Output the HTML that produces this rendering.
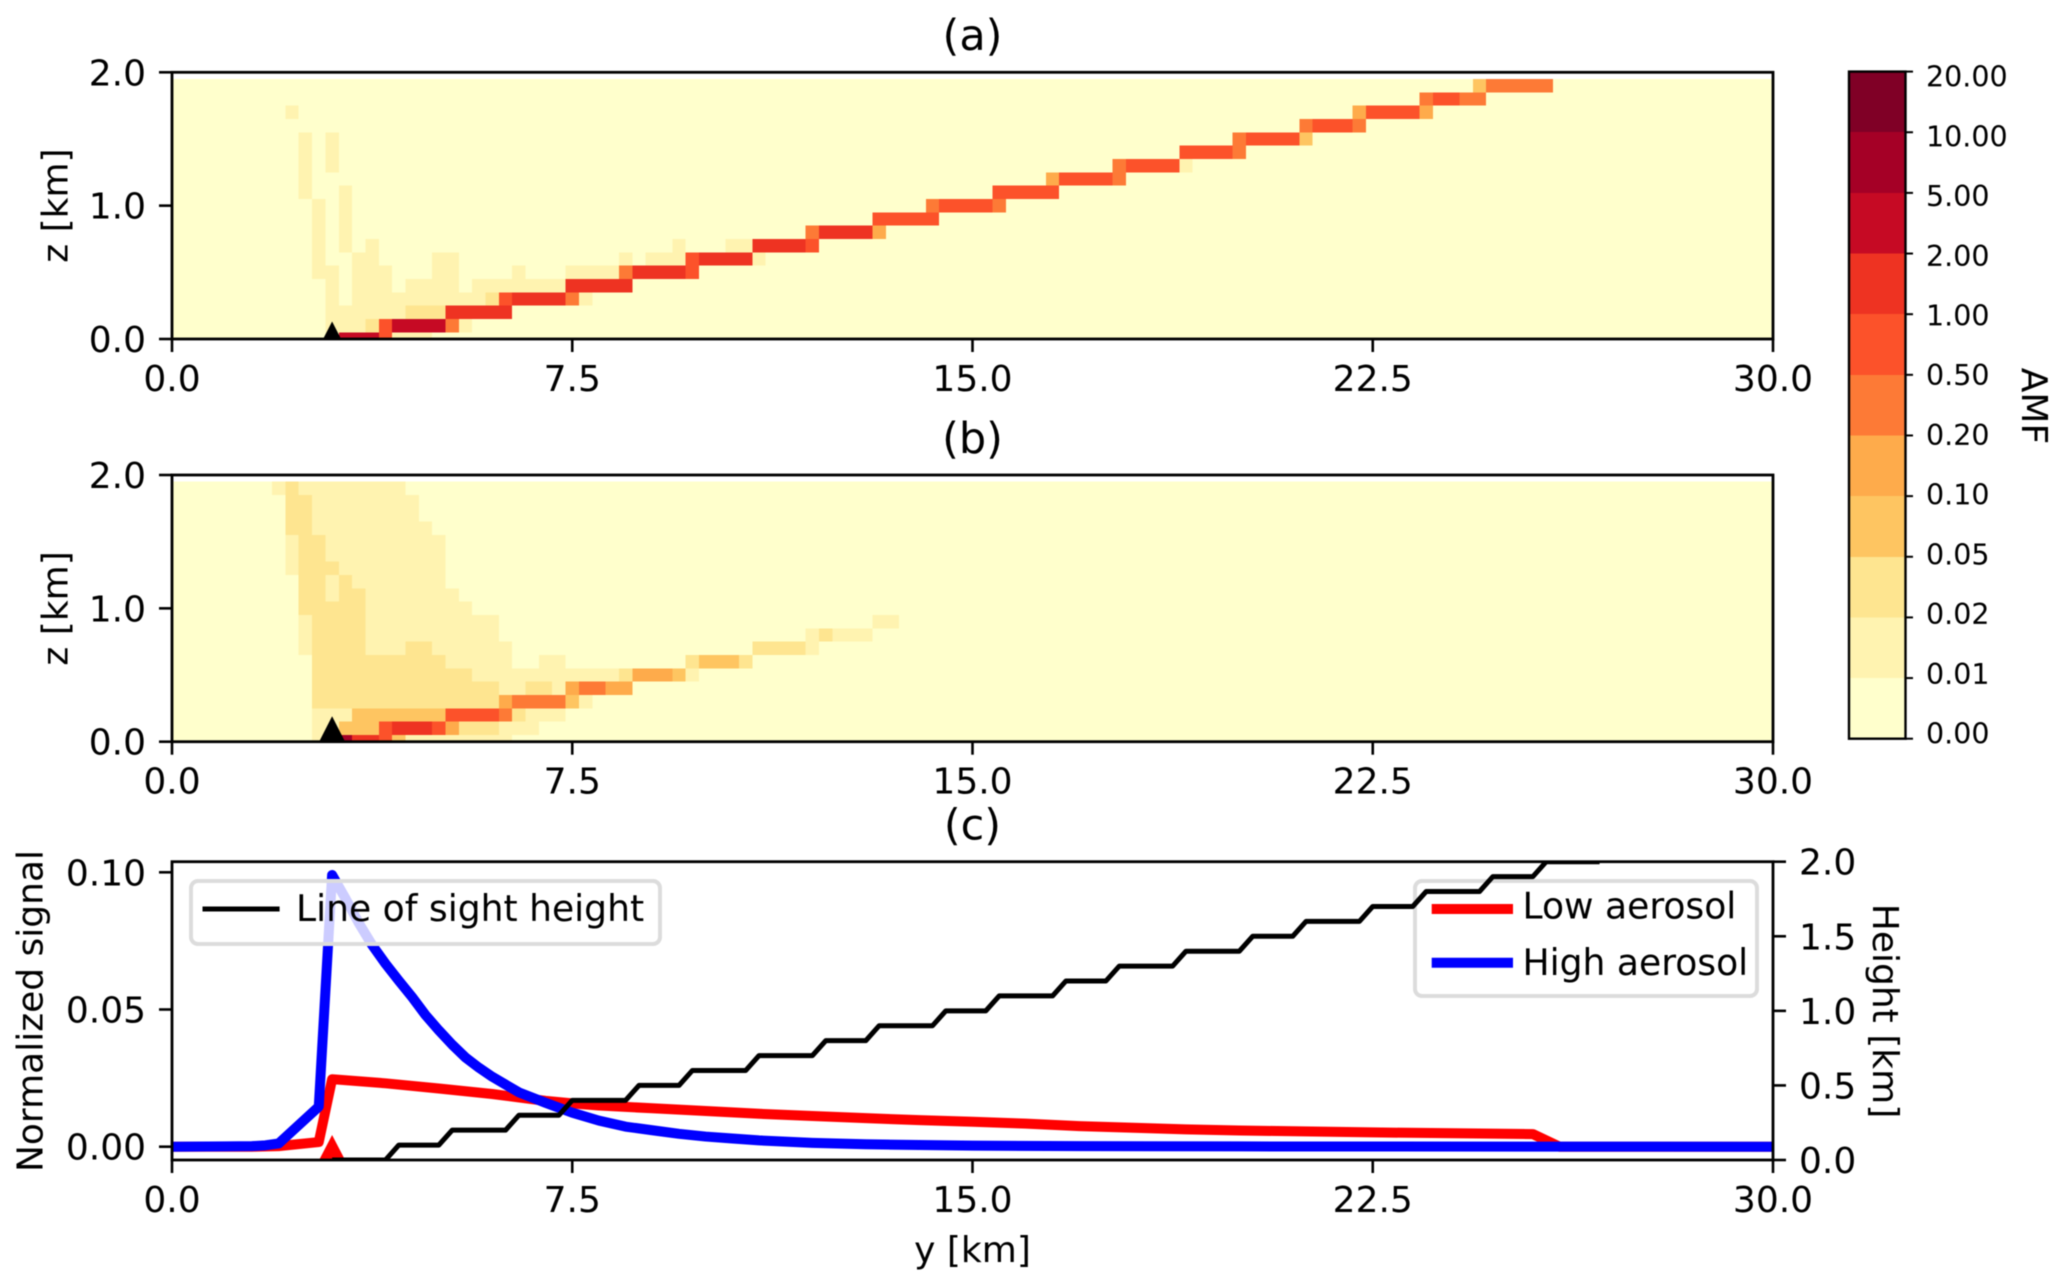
<!DOCTYPE html>
<html lang="en">
<head>
<meta charset="utf-8">
<title>AMF heatmaps and normalized signal</title>
<style>
html,body{margin:0;padding:0;background:#fff;}
svg{display:block;font-family:"DejaVu Sans","Liberation Sans",sans-serif;filter:blur(0.4px);}
text{fill:#000;}
</style>
</head>
<body>
<svg id="figure" xmlns="http://www.w3.org/2000/svg" width="2067" height="1288" viewBox="0 0 2067 1288">
  <defs>
    <clipPath id="clip-a"><rect x="172" y="72.3" width="1601" height="266.7"/></clipPath>
    <clipPath id="clip-b"><rect x="172" y="475" width="1601" height="266.7"/></clipPath>
    <clipPath id="clip-c"><rect x="172" y="861.7" width="1601" height="298.3"/></clipPath>
  </defs>
  <g id="panel-a"></g>
  <g id="panel-b"></g>
  <g id="panel-c">
    <g id="c-low-lines"></g>
    <g id="legend-right">
      <rect x="1415" y="881" width="342" height="115" rx="7" fill="#fff" fill-opacity="0.8" stroke="#dcdcdc" stroke-width="4"/>
      <line x1="1431.7" x2="1513" y1="909" y2="909" stroke="#ff0000" stroke-width="10"/>
      <text x="1522.5" y="918.7" font-size="36.1">Low aerosol</text>
      <line x1="1431.7" x2="1513" y1="962.7" y2="962.7" stroke="#0000ff" stroke-width="10"/>
      <text x="1522.5" y="975" font-size="36.1">High aerosol</text>
    </g>
    <g id="c-axes"></g>
    <g id="c-los"></g>
    <g id="legend-left">
      <rect x="191" y="881" width="469" height="63" rx="7" fill="#fff" fill-opacity="0.8" stroke="#dcdcdc" stroke-width="4"/>
      <line x1="202.5" x2="279.6" y1="909" y2="909" stroke="#000" stroke-width="5"/>
      <text x="296" y="921" font-size="36.1">Line of sight height</text>
    </g>
  </g>
  <g id="colorbar"></g>

  <text x="972.5" y="50" font-size="43" text-anchor="middle">(a)</text>
  <text x="972.5" y="453" font-size="43" text-anchor="middle">(b)</text>
  <text x="972.5" y="839.5" font-size="43" text-anchor="middle">(c)</text>
  <text transform="translate(67.5,205.6) rotate(-90)" font-size="36" text-anchor="middle">z [km]</text>
  <text transform="translate(67.5,608.4) rotate(-90)" font-size="36" text-anchor="middle">z [km]</text>
  <text transform="translate(42.5,1011) rotate(-90)" font-size="36" text-anchor="middle">Normalized signal</text>
  <text transform="translate(1873,1011) rotate(90)" font-size="36" text-anchor="middle">Height [km]</text>
  <text x="972.5" y="1262" font-size="36" text-anchor="middle">y [km]</text>
  <text transform="translate(2022,406) rotate(90)" font-size="36" text-anchor="middle">AMF</text>
</svg>

<script>
// ---- shared axis data ----
const xTickValues = [0, 7.5, 15, 22.5, 30];
const xTickLabels = ['0.0', '7.5', '15.0', '22.5', '30.0'];
const zTickValues = [0, 1, 2];
const zTickLabels = ['0.0', '1.0', '2.0'];
const signalTickValues = [0, 0.05, 0.1];
const signalTickLabels = ['0.00', '0.05', '0.10'];
const heightTickValues = [0, 0.5, 1, 1.5, 2];
const heightTickLabels = ['0.0', '0.5', '1.0', '1.5', '2.0'];
const colorBounds = [0, 0.01, 0.02, 0.05, 0.1, 0.2, 0.5, 1, 2, 5, 10, 20];
const colorBoundLabels = ['0.00', '0.01', '0.02', '0.05', '0.10', '0.20', '0.50', '1.00', '2.00', '5.00', '10.00', '20.00'];
const colorLevels = ['#ffffcc', '#fff3b0', '#fee590', '#fec561', '#feab4b', '#fd7a36', '#fc522a', '#ee3322', '#c60a24', '#a50026', '#800026'];
const sourceY = [3];
const backgroundAmf = [0.005];

// ---- heatmap runs: [first column, last column, row, AMF]; column = y/0.25 km, row = z/0.1 km ----
const panelARuns = [
  [12,12,0,.015],[13,15,0,3],[16,16,0,.7],[17,19,0,.015],
  [12,14,1,.015],[15,15,1,.03],[16,16,1,.7],[17,20,1,3],[21,21,1,.3],[22,22,1,.015],
  [12,17,2,.015],[18,20,2,.03],[21,25,2,1.5],
  [12,12,3,.015],[14,23,3,.015],[24,24,3,.03],[25,25,3,.7],[26,29,3,1.5],[30,30,3,.3],[31,31,3,.015],
  [12,12,4,.015],[14,16,4,.015],[18,21,4,.015],[23,29,4,.015],[30,34,4,1.5],
  [11,12,5,.015],[14,16,5,.015],[20,21,5,.015],[26,26,5,.015],[30,33,5,.015],[34,34,5,.3],[35,38,5,1.5],[39,39,5,.7],
  [11,11,6,.015],[14,15,6,.015],[20,21,6,.015],[34,34,6,.015],[36,38,6,.015],[39,39,6,.7],[40,43,6,1.5],[44,44,6,.015],
  [11,11,7,.015],[13,13,7,.015],[15,15,7,.015],[38,38,7,.015],[42,43,7,.015],[44,47,7,1.5],[48,48,7,.7],
  [11,11,8,.015],[13,13,8,.015],[48,48,8,.3],[49,52,8,1.5],[53,53,8,.15],
  [11,11,9,.015],[13,13,9,.015],[53,57,9,.7],
  [11,11,10,.015],[13,13,10,.015],[57,57,10,.3],[58,61,10,.7],[62,62,10,.3],
  [10,10,11,.015],[13,13,11,.015],[62,66,11,.7],
  [10,10,12,.015],[66,66,12,.15],[67,70,12,.7],[71,71,12,.3],
  [10,10,13,.015],[12,12,13,.015],[71,71,13,.3],[72,75,13,.7],[76,76,13,.015],
  [10,10,14,.015],[12,12,14,.015],[76,79,14,.7],[80,80,14,.3],
  [10,10,15,.015],[12,12,15,.015],[80,80,15,.3],[81,84,15,.7],[85,85,15,.07],
  [85,85,16,.3],[86,88,16,.7],[89,89,16,.3],
  [9,9,17,.015],[89,89,17,.15],[90,93,17,.7],[94,94,17,.15],
  [94,94,18,.3],[95,96,18,.7],[97,98,18,.3],
  [98,98,19,.07],[99,103,19,.3]
];
const panelBRuns = [
  [11,12,0,.015],[13,13,0,7],[14,15,0,1.5],[16,16,0,.7],[17,17,0,.07],[18,25,0,.015],
  [11,12,1,.015],[13,15,1,.07],[16,16,1,.7],[17,19,1,1.5],[20,20,1,.7],[21,21,1,.15],[22,24,1,.03],[25,27,1,.015],
  [11,13,2,.015],[14,20,2,.07],[21,24,2,.7],[25,25,2,.3],[26,26,2,.03],[27,29,2,.015],
  [11,24,3,.03],[25,25,3,.15],[26,29,3,.3],[30,30,3,.07],[31,31,3,.015],
  [11,24,4,.03],[25,26,4,.015],[27,28,4,.03],[29,29,4,.015],[30,30,4,.15],[31,32,4,.3],[33,34,4,.15],
  [11,22,5,.03],[23,33,5,.015],[34,34,5,.03],[35,37,5,.15],[38,38,5,.07],[39,39,5,.015],
  [11,20,6,.03],[21,25,6,.015],[28,29,6,.015],[39,39,6,.03],[40,42,6,.07],[43,43,6,.03],
  [10,10,7,.015],[11,14,7,.03],[15,17,7,.015],[18,19,7,.03],[20,25,7,.015],[44,47,7,.03],[48,48,7,.015],
  [10,10,8,.015],[11,14,8,.03],[15,24,8,.015],[48,48,8,.015],[49,49,8,.03],[50,52,8,.015],
  [10,10,9,.015],[11,14,9,.03],[15,24,9,.015],[53,54,9,.015],
  [10,14,10,.03],[15,22,10,.015],
  [10,11,11,.03],[12,12,11,.015],[13,14,11,.03],[15,21,11,.015],
  [10,11,12,.03],[12,12,12,.015],[13,13,12,.03],[14,20,12,.015],
  [9,9,13,.015],[10,12,13,.03],[13,20,13,.015],
  [9,9,14,.015],[10,11,14,.03],[12,20,14,.015],
  [9,9,15,.015],[10,11,15,.03],[12,20,15,.015],
  [9,10,16,.03],[11,19,16,.015],
  [9,10,17,.03],[11,18,17,.015],
  [9,10,18,.03],[11,18,18,.015],
  [8,8,19,.015],[9,9,19,.03],[10,17,19,.015]
];

// ---- panel (c) series ----
const lowY = [0,1.5,2,2.75,3,4,5,6,7,7.5,8,9,10,11,12,13,14,15,16,17,19,20,22.5,25.5,26,30];
const lowSignal = [0,0,.0002,.0017,.0246,.0231,.0212,.0192,.0167,.0158,.0150,.0140,.0130,.0120,.0112,.0104,.0097,.0091,.0084,.0075,.0063,.0059,.0052,.0046,0,0];
const highY = [0,1,1.5,1.75,2,2.75,3,3.25,3.5,3.75,4,4.25,4.5,4.75,5,5.25,5.5,5.75,6,6.5,7,7.5,8,8.5,9,9.5,10,10.5,11,12,13,14,15,17,20,30];
const highSignal = [0,.0001,.0002,.0005,.0012,.0146,.099,.0905,.0815,.0735,.0667,.0605,.0545,.0480,.0424,.0372,.0325,.0288,.0255,.0198,.0160,.0124,.0095,.0073,.0060,.0047,.0037,.0030,.0023,.0014,.0009,.0006,.0004,.0002,.0001,0];
const losY = [3,4,4.25,5,5.25,6.25,6.5,7.25,7.5,8.5,8.75,9.5,9.75,10.75,11,12,12.25,13,13.25,14.25,14.5,15.25,15.5,16.5,16.75,17.5,17.75,18.75,19,20,20.25,21,21.25,22.25,22.5,23.25,23.5,24.5,24.75,25.5,25.75,26.75];
const losHeight = [0,0,.1,.1,.2,.2,.3,.3,.4,.4,.5,.5,.6,.6,.7,.7,.8,.8,.9,.9,1,1,1.1,1.1,1.2,1.2,1.3,1.3,1.4,1.4,1.5,1.5,1.6,1.6,1.7,1.7,1.8,1.8,1.9,1.9,2,2];

// ---- axis functions ----
const NS = 'http://www.w3.org/2000/svg';
const X_LEFT = 172, X_RIGHT = 1773;
function xPx(km) { return X_LEFT + km / 30 * (X_RIGHT - X_LEFT); }
function zPxFor(bottom, top) { return function (z) { return bottom - z / 2 * (bottom - top); }; }
function signalPx(v) { return 1146.7 - v * 2744; }
const heightPx = zPxFor(1160, 861.7);
function amfColor(v) {
  for (let i = 0; i < colorLevels.length; i++) {
    if (v < colorBounds[i + 1]) return colorLevels[i];
  }
  return colorLevels[colorLevels.length - 1];
}
function make(parent, tag, attrs, text) {
  const el = document.createElementNS(NS, tag);
  for (const k in attrs) el.setAttribute(k, attrs[k]);
  if (text !== undefined) el.textContent = text;
  parent.appendChild(el);
  return el;
}
function pathFrom(xs, ys, fx, fy) {
  return xs.map(function (x, i) { return (i ? 'L' : 'M') + fx(x).toFixed(2) + ' ' + fy(ys[i]).toFixed(2); }).join('');
}
function xAxisTicks(parent, bottom) {
  xTickValues.forEach(function (v, i) {
    const t = make(parent, 'line', { x1: xPx(v), x2: xPx(v), y1: bottom, y2: bottom + 13, stroke: '#000', 'stroke-width': 2.6 });
    
    
    const l = make(parent, 'text', { x: xPx(v), y: bottom + 52, 'font-size': 36, 'text-anchor': 'middle' }, xTickLabels[i]);
    
    
  });
}
function leftAxisTicks(parent, values, labels, fy) {
  values.forEach(function (v, i) {
    const t = make(parent, 'line', { x1: X_LEFT - 13, x2: X_LEFT, y1: fy(v), y2: fy(v), stroke: '#000', 'stroke-width': 2.6 });
    
    
    const l = make(parent, 'text', { x: 146, y: fy(v) + 13, 'font-size': 36, 'text-anchor': 'end' }, labels[i]);
    
    
  });
}
function frame(parent, top, bottom) {
  const f = make(parent, 'rect', { x: X_LEFT, y: top, width: X_RIGHT - X_LEFT, height: bottom - top, fill: 'none', stroke: '#000', 'stroke-width': 2.8 });
  
  
}
function triangle(parent, km, basePx, halfWidth, height, fill, clip) {
  const px = xPx(km);
  const p = make(parent, 'polygon', { points: (px - halfWidth) + ',' + basePx + ' ' + px + ',' + (basePx - height) + ' ' + (px + halfWidth) + ',' + basePx, fill: fill, 'clip-path': 'url(#' + clip + ')' });
  
  
}

// ---- heatmap panels ----
function drawHeatmap(groupId, clipId, runs, top, bottom, markerHalf, markerHeight) {
  const g = document.getElementById(groupId);
  const zPx = zPxFor(bottom, top);
  const cells = make(g, 'g', { 'clip-path': 'url(#' + clipId + ')', 'shape-rendering': 'crispEdges' });
  
  
  for (let row = 0; row < 20; row++) {
    const bg = make(cells, 'rect', { x: xPx(0), y: zPx((row + 0.5) * 0.1), width: xPx(30) - xPx(0), height: zPx((row - 0.5) * 0.1) - zPx((row + 0.5) * 0.1), fill: amfColor(backgroundAmf[0]) });
    
    
  }
  runs.forEach(function (r) {
    const x0 = xPx((r[0] - 0.5) * 0.25), x1 = xPx((r[1] + 0.5) * 0.25);
    const y0 = zPx((r[2] + 0.5) * 0.1), y1 = zPx((r[2] - 0.5) * 0.1);
    const c = make(cells, 'rect', { x: x0, y: y0, width: x1 - x0, height: y1 - y0, fill: amfColor(r[3]) });
    
    
  });
  triangle(g, sourceY[0], bottom, markerHalf, markerHeight, '#000', clipId);
  frame(g, top, bottom);
  xAxisTicks(g, bottom);
  leftAxisTicks(g, zTickValues, zTickLabels, zPx);
}
drawHeatmap('panel-a', 'clip-a', panelARuns, 72.3, 339, 9, 17.5);
drawHeatmap('panel-b', 'clip-b', panelBRuns, 475, 741.7, 13, 25.5);

// ---- panel (c) ----
(function () {
  const lines = document.getElementById('c-low-lines');
  const axes = document.getElementById('c-axes');
  const los = document.getElementById('c-los');
  triangle(lines, sourceY[0], 1160, 13, 25, '#ff0000', 'clip-c');
  const low = make(lines, 'path', { d: pathFrom(lowY, lowSignal, xPx, signalPx), fill: 'none', stroke: '#ff0000', 'stroke-width': 10, 'stroke-linejoin': 'round', 'clip-path': 'url(#clip-c)' });
  
  
  const high = make(lines, 'path', { d: pathFrom(highY, highSignal, xPx, signalPx), fill: 'none', stroke: '#0000ff', 'stroke-width': 10, 'stroke-linejoin': 'round', 'clip-path': 'url(#clip-c)' });
  
  
  frame(axes, 861.7, 1160);
  xAxisTicks(axes, 1160);
  leftAxisTicks(axes, signalTickValues, signalTickLabels, signalPx);
  heightTickValues.forEach(function (v, i) {
    const t = make(axes, 'line', { x1: X_RIGHT, x2: X_RIGHT + 13, y1: heightPx(v), y2: heightPx(v), stroke: '#000', 'stroke-width': 2.6 });
    
    
    const l = make(axes, 'text', { x: 1799, y: heightPx(v) + 13, 'font-size': 36 }, heightTickLabels[i]);
    
    
  });
  const line = make(los, 'path', { d: pathFrom(losY, losHeight, xPx, heightPx), fill: 'none', stroke: '#000', 'stroke-width': 5, 'stroke-linejoin': 'round', 'clip-path': 'url(#clip-c)' });
  
  
})();

// ---- colorbar ----
(function () {
  const g = document.getElementById('colorbar');
  const CB_LEFT = 1849, CB_RIGHT = 1905.5, CB_TOP = 71.6, CB_BOTTOM = 738.7;
  const n = colorBoundLabels.length - 1;
  function tickPx(i) { return CB_BOTTOM - i / n * (CB_BOTTOM - CB_TOP); }
  colorLevels.forEach(function (col, i) {
    const b = make(g, 'rect', { x: CB_LEFT, y: tickPx(i + 1), width: CB_RIGHT - CB_LEFT, height: tickPx(i) - tickPx(i + 1), fill: col, 'shape-rendering': 'crispEdges' });
    
    
  });
  const o = make(g, 'rect', { x: CB_LEFT, y: CB_TOP, width: CB_RIGHT - CB_LEFT, height: CB_BOTTOM - CB_TOP, fill: 'none', stroke: '#000', 'stroke-width': 2.4 });
  
  
  colorBoundLabels.forEach(function (lab, i) {
    const t = make(g, 'line', { x1: CB_RIGHT, x2: 1913, y1: tickPx(i), y2: tickPx(i), stroke: '#000', 'stroke-width': 2 });
    
    
    const centre = 733.2 - i / n * (733.2 - 76.2);
    const l = make(g, 'text', { x: 1926, y: centre + 10.4, 'font-size': 28.5 }, lab);
    
    
  });
})();
</script>
</body>
</html>
